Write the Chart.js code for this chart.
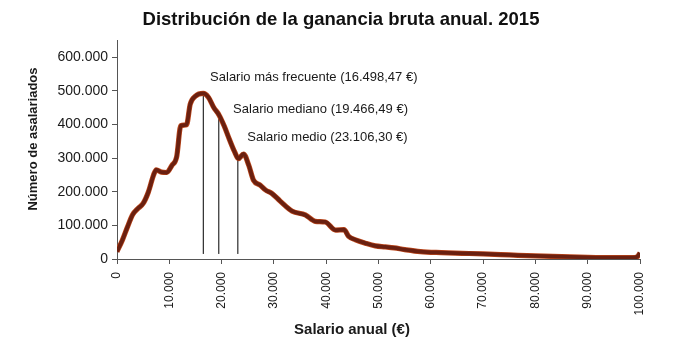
<!DOCTYPE html>
<html>
<head>
<meta charset="utf-8">
<script src="https://cdn.jsdelivr.net/npm/chart.js@4"></script>
<style>
  body { margin: 0; background: #fff; }
  canvas { display: block; }
</style>
</head>
<body>
<canvas id="myChart" width="682" height="350"></canvas>
<script>
// salario anual (€) y número de asalariados
const salarios = [0, 1000, 2000, 3000, 4000, 5000, 6000, 7000, 7500, 8500, 9500, 10500, 11400, 12200, 13300,
    14000, 15000, 16500, 17500, 18500, 19500, 20500, 21500, 22500, 23200, 24200, 25200, 26100, 27400,
    28400, 29600, 31200, 33500, 36000, 37900, 39800, 41800, 43400, 44300, 45600, 47500, 49400, 51300,
    53000, 55000, 58000, 62000, 66000, 70000, 75000, 80000, 85000, 90000, 95000, 98500, 99500, 100000];
const asalariados = [22000, 55000, 95000, 132000, 150000, 165000, 199000, 250000, 265000, 258000, 257000,
    278000, 303000, 396000, 399000, 460000, 484000, 492000, 480000, 450000, 428000, 395000, 355000,
    318000, 298000, 312000, 278000, 234000, 219000, 205000, 195000, 172000, 142000, 131000, 112000,
    110000, 86000, 87000, 67000, 57000, 47000, 39000, 36000, 33000, 28000, 22000, 19000, 17000, 15000,
    12000, 9000, 7000, 5000, 4000, 4000, 7000, 18000];

// marcas de los ejes
const ticksX = [0, 10000, 20000, 30000, 40000, 50000, 60000, 70000, 80000, 90000, 100000];
const ticksY = [0, 100000, 200000, 300000, 400000, 500000, 600000];

// salario más frecuente, mediano y medio
const marcas = [16498.47, 19466.49, 23106.30];
const marcasTope = [492000, 428000, 303000];
const marcasBase = 15000;
const etiquetas = ['Salario más frecuente (16.498,47 €)', 'Salario mediano (19.466,49 €)', 'Salario medio (23.106,30 €)'];

const titulo = 'Distribución de la ganancia bruta anual. 2015';
const tituloX = 'Salario anual (€)';
const tituloY = 'Número de asalariados';

const FONT = "'Liberation Sans', Arial, sans-serif";

function miles(v) {
    return String(Math.round(v)).replace(/\B(?=(\d{3})+(?!\d))/g, '.');
}

const curva = salarios.map((x, i) => ({ x: x, y: asalariados[i] }));

const lineasMarcas = marcas.map((x, i) => ({
    type: 'line',
    data: [{ x: x, y: marcasBase }, { x: x, y: marcasTope[i] }],
    borderColor: '#000',
    borderWidth: 1,
    pointRadius: 0,
    order: 3
}));

// textos de las marcas y títulos de ejes
const textos = {
    id: 'textos',
    afterDraw(chart) {
        const ctx = chart.ctx;
        const xs = chart.scales.x, ys = chart.scales.y;
        ctx.save();
        ctx.fillStyle = '#1a1a1a';
        ctx.font = '13px ' + FONT;
        ctx.textBaseline = 'middle';
        ctx.textAlign = 'left';
        const pos = [[17800, 538000], [22200, 443000], [24900, 361000]];
        etiquetas.forEach((t, i) => {
            ctx.fillText(t, xs.getPixelForValue(pos[i][0]), ys.getPixelForValue(pos[i][1]));
        });

        ctx.font = 'bold 15px ' + FONT;
        ctx.textAlign = 'center';
        ctx.fillText(tituloX, 352, 330);

        ctx.translate(33, 139);
        ctx.rotate(-Math.PI / 2);
        ctx.font = 'bold 13px ' + FONT;
        ctx.fillText(tituloY, 0, 0);
        ctx.restore();
    }
};

const ctx = document.getElementById('myChart');
const myChart = new Chart(ctx, {
    type: 'line',
    data: {
        datasets: [{
            data: curva,
            borderColor: '#6a2010',
            borderWidth: 3.8,
            pointRadius: 0,
            cubicInterpolationMode: 'monotone',
            order: 1
        }, {
            data: curva,
            borderColor: '#bb461b',
            borderWidth: 5.2,
            pointRadius: 0,
            cubicInterpolationMode: 'monotone',
            order: 2
        }, ...lineasMarcas]
    },
    options: {
        responsive: false,
        animation: false,
        layout: { padding: 0 },
        plugins: {
            legend: { display: false },
            tooltip: { enabled: false },
            title: {
                display: true,
                text: titulo,
                color: '#111',
                font: { family: FONT, size: 18.5, weight: 'bold' },
                padding: { top: 9, bottom: 9 }
            }
        },
        scales: {
            x: {
                type: 'linear',
                min: 0,
                max: 100000,
                afterFit: s => { s.height = 91; },
                afterBuildTicks: s => { s.ticks = ticksX.map(v => ({ value: v })); },
                grid: { drawOnChartArea: false, tickLength: 5, color: '#555' },
                border: { color: '#555' },
                ticks: {
                    maxRotation: 90,
                    minRotation: 90,
                    padding: 8,
                    color: '#1a1a1a',
                    font: { family: FONT, size: 12 },
                    callback: v => miles(v)
                }
            },
            y: {
                min: 0,
                max: 650000,
                afterFit: s => { s.width = 117; },
                afterBuildTicks: s => { s.ticks = ticksY.map(v => ({ value: v })); },
                grid: { drawOnChartArea: false, tickLength: 5, color: '#555' },
                border: { color: '#555' },
                ticks: {
                    padding: 4,
                    color: '#1a1a1a',
                    font: { family: FONT, size: 14 },
                    callback: v => miles(v)
                }
            },
            // margen derecho vacío
            derecha: {
                position: 'right',
                display: true,
                afterFit: s => { s.width = 42; },
                grid: { display: false },
                border: { display: false },
                ticks: { display: false }
            }
        }
    },
    plugins: [textos]
});
</script>
</body>
</html>
